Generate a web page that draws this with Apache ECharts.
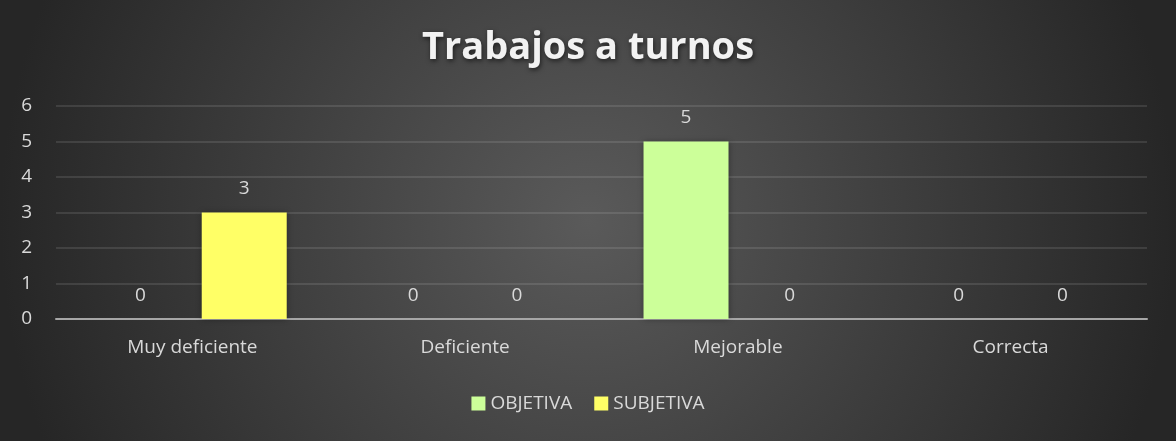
<!DOCTYPE html>
<html>
<head>
<meta charset="utf-8">
<script src="https://cdn.jsdelivr.net/npm/echarts@6/dist/echarts.min.js"></script>
<style>
	html, body { margin: 0; padding: 0; }
	#chart {
		width: 1176px;
		height: 441px;
		background: radial-gradient(circle farthest-side at 50% 50%, #5a5a5a 0%, #262626 100%);
		background-color: #262626;
	}
</style>
</head>
<body>
<div id="chart"></div>
<script>
	const categories = ['Muy deficiente', 'Deficiente', 'Mejorable', 'Correcta'];
	const objetiva = [0, 0, 5, 0];
	const subjetiva = [3, 0, 0, 0];
	const yTicks = [0, 1, 2, 3, 4, 5, 6];

	const textColor = '#d9d9d9';
	const font = '"Open Sans", "Noto Sans", sans-serif';

	const chart = echarts.init(document.getElementById('chart'), null, { renderer: 'canvas' });

	//标签样式
	const labelStyle = {
		show: true,
		position: 'top',
		distance: 14,
		color: textColor,
		fontFamily: font,
		fontSize: 19
	};

	const options = {
		backgroundColor: 'transparent',
		animation: false,
		title: {
			text: 'Trabajos a turnos',
			left: 'center',
			top: 24,
			textStyle: {
				color: '#f2f2f2',
				fontFamily: font,
				fontSize: 38,
				fontWeight: 'bold',
				textShadowColor: 'rgba(0, 0, 0, 0.6)',
				textShadowBlur: 5,
				textShadowOffsetX: 1,
				textShadowOffsetY: 2
			}
		},
		legend: {
			top: 389,
			left: 'center',
			icon: 'rect',
			itemWidth: 14,
			itemHeight: 14,
			itemGap: 22,
			textStyle: {
				color: textColor,
				fontFamily: font,
				fontSize: 19
			},
			data: ['OBJETIVA', 'SUBJETIVA']
		},
		grid: {
			left: 56,
			right: 29,
			top: 106,
			bottom: 122
		},
		xAxis: {
			type: 'category',
			data: categories,
			axisTick: { show: false },
			axisLine: {
				lineStyle: { color: '#a6a6a6', width: 2 }
			},
			axisLabel: {
				color: textColor,
				fontFamily: font,
				fontSize: 19,
				margin: 19
			}
		},
		yAxis: {
			type: 'value',
			min: yTicks[0],
			max: yTicks[yTicks.length - 1],
			interval: 1,
			axisLine: { show: false },
			axisTick: { show: false },
			axisLabel: {
				color: textColor,
				fontFamily: font,
				fontSize: 19,
				margin: 24
			},
			splitLine: {
				lineStyle: { color: 'rgba(255, 255, 255, 0.14)', width: 1.5 }
			}
		},
		series: [{
				name: 'OBJETIVA',
				type: 'bar',
				barWidth: 85,
				barGap: '22%',
				itemStyle: {
					color: '#ccff99',
					shadowColor: 'rgba(0, 0, 0, 0.35)',
					shadowBlur: 6
				},
				label: labelStyle,
				data: objetiva
			}, {
				name: 'SUBJETIVA',
				type: 'bar',
				barWidth: 85,
				itemStyle: {
					color: '#ffff66',
					shadowColor: 'rgba(0, 0, 0, 0.35)',
					shadowBlur: 6
				},
				label: labelStyle,
				data: subjetiva
			}
		]
	};

	chart.setOption(options);
</script>
</body>
</html>
